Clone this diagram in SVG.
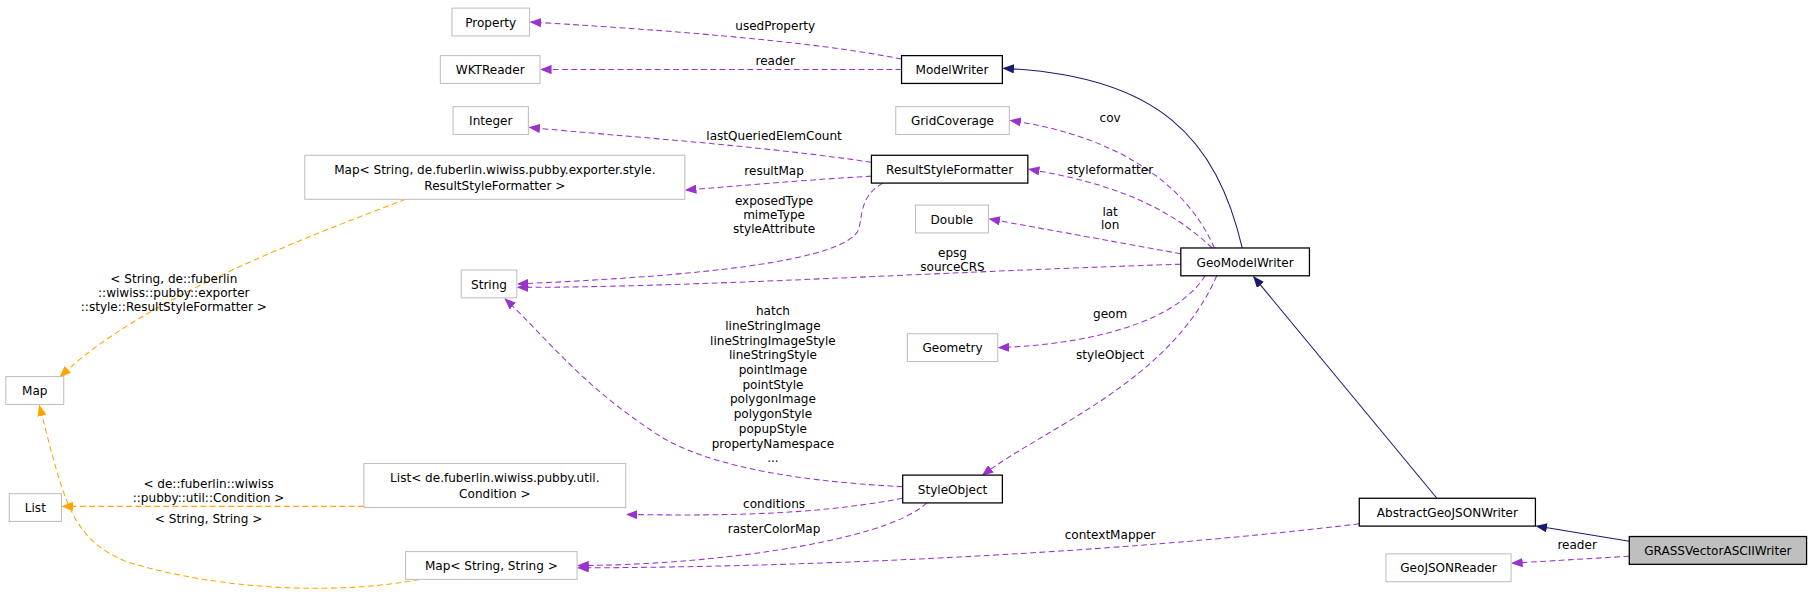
<svg xmlns="http://www.w3.org/2000/svg" width="1817" height="595" viewBox="0 0 1817 595">
<defs>
<style>
text{font-family:"DejaVu Sans",sans-serif;font-size:10.4px;fill:#000;text-anchor:middle}
.n rect{fill:#fff;stroke:#000;stroke-width:1.1}
.x rect{fill:#fff;stroke:#bfbfbf;stroke-width:0.9}
.m{fill:none;stroke:#9a32cd;stroke-dasharray:5,3;stroke-width:0.9}
.t{fill:none;stroke:#ffa500;stroke-dasharray:5,3;stroke-width:0.9}
.i{fill:none;stroke:#191970;stroke-width:0.9}
</style>
<marker id="am" markerWidth="10" markerHeight="8" refX="9" refY="4" orient="auto" markerUnits="userSpaceOnUse"><path d="M0,0 L10,4 L0,8Z" fill="#9a32cd"/></marker>
<marker id="at" markerWidth="10" markerHeight="8" refX="9" refY="4" orient="auto" markerUnits="userSpaceOnUse"><path d="M0,0 L10,4 L0,8Z" fill="#ffa500"/></marker>
<marker id="ai" markerWidth="10" markerHeight="8" refX="9" refY="4" orient="auto" markerUnits="userSpaceOnUse"><path d="M0,0 L10,4 L0,8Z" fill="#191970"/></marker>
</defs>
<rect width="1817" height="595" fill="#fff"/>
<g transform="scale(1.1588)">
<g id="edges">
<path class="m" marker-end="url(#am)" d="M778,51 C700,35 560,25 458,19"/>
<path class="m" marker-end="url(#am)" d="M778,60 L467,60"/>
<path class="m" marker-end="url(#am)" d="M752,140 C650,125 540,118 457,110"/>
<path class="m" marker-end="url(#am)" d="M752,152 C700,155 640,160 592,164"/>
<path class="m" marker-end="url(#am)" d="M762,158 C740,170 745,190 740,200 C720,230 560,240 447,245"/>
<path class="m" marker-end="url(#am)" d="M1019,228 C800,235 600,248 447,248"/>
<path class="m" marker-end="url(#am)" d="M1048,214 C1020,150 950,115 872,104"/>
<path class="m" marker-end="url(#am)" d="M1046,214 C1000,170 940,155 888,146"/>
<path class="m" marker-end="url(#am)" d="M1019,219 L854,189"/>
<path class="m" marker-end="url(#am)" d="M1040,238 C1010,285 920,298 862,300"/>
<path class="m" marker-end="url(#am)" d="M1050,238 C1010,330 900,370 848,410"/>
<path class="m" marker-end="url(#am)" d="M779,420 C680,415 600,400 560,370 C500,330 470,290 436,258"/>
<path class="m" marker-end="url(#am)" d="M779,430 C700,445 620,445 541,444"/>
<path class="m" marker-end="url(#am)" d="M800,434 C760,470 600,488 499,488"/>
<path class="m" marker-end="url(#am)" d="M1173,452 C900,485 600,490 499,490"/>
<path class="m" marker-end="url(#am)" d="M1406,480 L1305,486"/>
<path class="i" marker-end="url(#ai)" d="M1072,214 C1050,120 1000,65 866,59"/>
<path class="i" marker-end="url(#ai)" d="M1240,430 L1082,239"/>
<path class="i" marker-end="url(#ai)" d="M1406,467 L1326,454"/>
<path class="t" marker-end="url(#at)" d="M350,172 C250,210 120,260 52,325"/>
<path class="t" marker-end="url(#at)" d="M314,437 L54,437"/>
<path class="t" marker-end="url(#at)" d="M362,500 C300,512 200,512 110,485 C60,465 55,430 34,350"/>
</g>
<g id="labels">
<text x="669" y="26">usedProperty</text>
<text x="669" y="56">reader</text>
<text x="668" y="121">lastQueriedElemCount</text>
<text x="668" y="151">resultMap</text>
<text x="668" y="177">exposedType</text>
<text x="668" y="189">mimeType</text>
<text x="668" y="201">styleAttribute</text>
<text x="958" y="105">cov</text>
<text x="958" y="150">styleformatter</text>
<text x="958" y="186">lat</text>
<text x="958" y="198">lon</text>
<text x="822" y="222">epsg</text>
<text x="822" y="234">sourceCRS</text>
<text x="958" y="274">geom</text>
<text x="958" y="310">styleObject</text>
<text x="958" y="465">contextMapper</text>
<text x="1361" y="474">reader</text>
<text x="150" y="244">&lt; String, de::fuberlin</text>
<text x="150" y="256">::wiwiss::pubby::exporter</text>
<text x="150" y="268">::style::ResultStyleFormatter &gt;</text>
<text x="180" y="421">&lt; de::fuberlin::wiwiss</text>
<text x="180" y="433">::pubby::util::Condition &gt;</text>
<text x="180" y="451">&lt; String, String &gt;</text>
<text x="667" y="272">hatch</text>
<text x="667" y="284.7">lineStringImage</text>
<text x="667" y="297.4">lineStringImageStyle</text>
<text x="667" y="310.1">lineStringStyle</text>
<text x="667" y="322.8">pointImage</text>
<text x="667" y="335.5">pointStyle</text>
<text x="667" y="348.2">polygonImage</text>
<text x="667" y="360.9">polygonStyle</text>
<text x="667" y="373.6">popupStyle</text>
<text x="667" y="386.3">propertyNamespace</text>
<text x="667" y="399">...</text>
<text x="668" y="438">conditions</text>
<text x="668" y="460">rasterColorMap</text>
</g>
<g id="Property" class="x"><rect x="390" y="7" width="67" height="24"/><text x="423.5" y="23">Property</text></g>
<g id="WKTReader" class="x"><rect x="380" y="48" width="86" height="24"/><text x="423" y="64">WKTReader</text></g>
<g id="Integer" class="x"><rect x="391" y="92" width="65" height="24"/><text x="423.5" y="108">Integer</text></g>
<g id="GridCoverage" class="x"><rect x="773" y="92" width="98" height="24"/><text x="822" y="108">GridCoverage</text></g>
<g id="ModelWriter" class="n"><rect x="778" y="48" width="87" height="24"/><text x="821.5" y="64">ModelWriter</text></g>
<g id="ResultStyleFormatter" class="n"><rect x="752" y="134" width="135" height="24"/><text x="819.5" y="150">ResultStyleFormatter</text></g>
<g id="MapRSF" class="x"><rect x="263" y="134" width="328" height="38"/><text x="427" y="150">Map&lt; String, de.fuberlin.wiwiss.pubby.exporter.style.</text><text x="427" y="164">ResultStyleFormatter &gt;</text></g>
<g id="Double" class="x"><rect x="790" y="177" width="63" height="24"/><text x="821.5" y="193">Double</text></g>
<g id="GeoModelWriter" class="n"><rect x="1019" y="214" width="111" height="24"/><text x="1074.5" y="230">GeoModelWriter</text></g>
<g id="String" class="x"><rect x="398" y="233" width="48" height="24"/><text x="422" y="249">String</text></g>
<g id="Geometry" class="x"><rect x="783" y="288" width="78" height="24"/><text x="822" y="304">Geometry</text></g>
<g id="Map" class="x"><rect x="5" y="325" width="50" height="24"/><text x="30" y="341">Map</text></g>
<g id="StyleObject" class="n"><rect x="779" y="410" width="86" height="24"/><text x="822" y="426">StyleObject</text></g>
<g id="ListCondition" class="x"><rect x="314" y="400" width="226" height="38"/><text x="427" y="416">List&lt; de.fuberlin.wiwiss.pubby.util.</text><text x="427" y="430">Condition &gt;</text></g>
<g id="List" class="x"><rect x="8" y="426" width="45" height="24"/><text x="30.5" y="442">List</text></g>
<g id="AbstractGeoJSONWriter" class="n"><rect x="1173" y="430" width="152" height="24"/><text x="1249" y="446">AbstractGeoJSONWriter</text></g>
<g id="GRASSVectorASCIIWriter"><rect x="1406" y="463" width="153" height="24" fill="#bfbfbf" stroke="#000" stroke-width="1.1"/><text x="1482.5" y="479">GRASSVectorASCIIWriter</text></g>
<g id="MapStringString" class="x"><rect x="350" y="476" width="148" height="24"/><text x="424" y="492">Map&lt; String, String &gt;</text></g>
<g id="GeoJSONReader" class="x"><rect x="1196" y="478" width="108" height="24"/><text x="1250" y="494">GeoJSONReader</text></g>
</g>
</svg>
